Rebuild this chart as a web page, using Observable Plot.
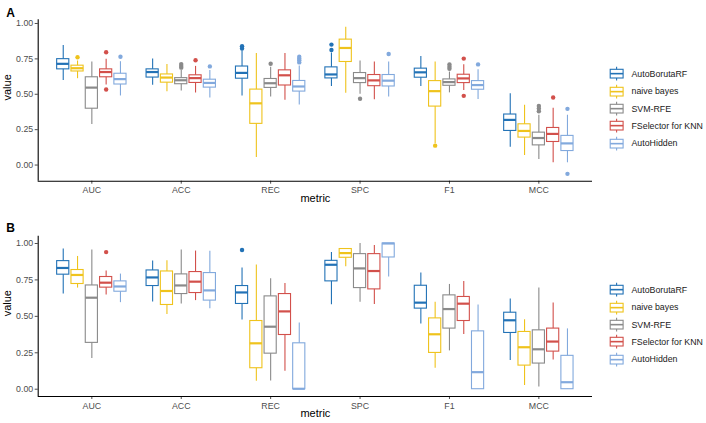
<!DOCTYPE html>
<html>
<head>
<meta charset="utf-8">
<script src="https://cdn.jsdelivr.net/npm/d3@7"></script>
<script src="https://cdn.jsdelivr.net/npm/@observablehq/plot@0.6"></script>
<style>
  body { margin: 0; background: white; font-family: 'Liberation Sans', Arial, sans-serif; }
  #wrap { position: relative; width: 706px; height: 423px; overflow: hidden; }
  .legend { position: absolute; left: 608px; }
  .legend .row { display: flex; align-items: center; height: 17.3px; }
  .legend .row span { font-size: 8.8px; color: #1a1a1a; margin-left: 6.5px; white-space: nowrap; }
</style>
</head>
<body>
<div id="wrap"></div>
<script>
// ---------- data ----------
const metrics = ["AUC", "ACC", "REC", "SPC", "F1", "MCC"];
const methods = ["AutoBorutaRF", "naive bayes", "SVM-RFE", "FSelector for KNN", "AutoHidden"];
const methodColors = ["#2272b6", "#efc31c", "#8a8a8a", "#d2504b", "#82a9dd"];
const yTicks = [0, 0.25, 0.5, 0.75, 1];

// per metric: [lower whisker, q1, median, q3, upper whisker]
const A_AutoBorutaRF = [[0.597,0.676,0.715,0.748,0.845],[0.563,0.618,0.657,0.676,0.749],[0.488,0.61,0.651,0.696,0.805],[0.555,0.612,0.64,0.69,0.792],[0.555,0.617,0.655,0.681,0.766],[0.125,0.241,0.319,0.357,0.503]];
const A_naiveBayes   = [[0.61,0.661,0.684,0.702,0.735],[0.518,0.582,0.618,0.64,0.71],[0.054,0.291,0.436,0.533,0.788],[0.508,0.728,0.827,0.886,0.974],[0.15,0.413,0.522,0.593,0.728],[0.068,0.194,0.241,0.288,0.423]];
const A_SVMRFE       = [[0.287,0.398,0.547,0.62,0.728],[0.523,0.571,0.599,0.614,0.669],[0.481,0.545,0.578,0.608,0.69],[0.5,0.579,0.614,0.65,0.735],[0.51,0.56,0.586,0.605,0.657],[0.04,0.139,0.191,0.229,0.352]];
const A_FSelector    = [[0.565,0.62,0.657,0.676,0.748],[0.509,0.58,0.614,0.634,0.697],[0.458,0.562,0.634,0.669,0.788],[0.461,0.557,0.598,0.636,0.728],[0.527,0.579,0.612,0.638,0.709],[0.016,0.163,0.22,0.262,0.401]];
const A_AutoHidden   = [[0.488,0.569,0.607,0.645,0.73],[0.474,0.547,0.58,0.603,0.668],[0.424,0.519,0.555,0.594,0.7],[0.48,0.555,0.596,0.636,0.728],[0.463,0.532,0.565,0.593,0.674],[0.016,0.099,0.153,0.206,0.352]];
// outliers: [metric, method, value]
const A_outliers = [
  ["REC","AutoBorutaRF",0.839],["REC","AutoBorutaRF",0.823],["SPC","AutoBorutaRF",0.851],["SPC","AutoBorutaRF",0.813],
  ["AUC","naive bayes",0.761],["F1","naive bayes",0.137],
  ["ACC","SVM-RFE",0.713],["ACC","SVM-RFE",0.7],["ACC","SVM-RFE",0.688],["REC","SVM-RFE",0.716],["SPC","SVM-RFE",0.468],
  ["F1","SVM-RFE",0.71],["F1","SVM-RFE",0.695],["F1","SVM-RFE",0.68],["MCC","SVM-RFE",0.418],["MCC","SVM-RFE",0.4],["MCC","SVM-RFE",0.38],
  ["AUC","FSelector for KNN",0.797],["AUC","FSelector for KNN",0.534],["ACC","FSelector for KNN",0.74],
  ["F1","FSelector for KNN",0.752],["F1","FSelector for KNN",0.489],["MCC","FSelector for KNN",0.477],
  ["AUC","AutoHidden",0.765],["ACC","AutoHidden",0.697],["REC","AutoHidden",0.765],["REC","AutoHidden",0.752],
  ["REC","AutoHidden",0.74],["REC","AutoHidden",0.725],["SPC","AutoHidden",0.784],["F1","AutoHidden",0.711],
  ["MCC","AutoHidden",0.397],["MCC","AutoHidden",-0.062]
];

const B_AutoBorutaRF = [[0.653,0.786,0.832,0.879,0.962],[0.598,0.708,0.767,0.815,0.879],[0.475,0.585,0.664,0.708,0.831],[0.58,0.74,0.854,0.881,0.938],[0.448,0.553,0.594,0.71,0.797],[0.197,0.386,0.473,0.525,0.619]];
const B_naiveBayes   = [[0.694,0.722,0.784,0.818,0.911],[0.512,0.578,0.674,0.808,0.881],[0.055,0.144,0.315,0.468,0.852],[0.84,0.902,0.934,0.962,0.962],[0.144,0.249,0.377,0.486,0.596],[0.025,0.162,0.288,0.393,0.477]];
const B_SVMRFE       = [[0.21,0.318,0.628,0.712,0.955],[0.585,0.653,0.712,0.788,0.955],[0.057,0.244,0.429,0.637,0.758],[0.596,0.694,0.829,0.927,1.0],[0.263,0.416,0.55,0.644,0.719],[0.016,0.176,0.274,0.404,0.694]];
const B_FSelector    = [[0.646,0.697,0.731,0.77,0.811],[0.608,0.66,0.738,0.804,0.948],[0.123,0.372,0.534,0.653,0.726],[0.582,0.685,0.811,0.927,0.986],[0.375,0.468,0.587,0.633,0.74],[0.201,0.258,0.327,0.416,0.592]];
const B_AutoHidden   = [[0.594,0.669,0.705,0.74,0.79],[0.553,0.608,0.678,0.797,0.946],[0,0,0.003,0.315,0.455],[0.77,0.904,1.0,1.0,1.0],[0,0,0.117,0.397,0.578],[0,0,0.048,0.229,0.414]];
const B_outliers = [["AUC","FSelector for KNN",0.941],["REC","AutoBorutaRF",0.955]];

// ---------- build ----------
const slot = 0.16, halfBox = 0.068;
function offset(method) { return (methods.indexOf(method) - (methods.length - 1) / 2) * slot; }
function buildRows(seriesList) {
  const rows = [];
  seriesList.forEach((series, k) => {
    series.forEach((s, i) => {
      const xc = i + offset(methods[k]);
      rows.push({metric: metrics[i], method: methods[k], xc, xl: xc - halfBox, xr: xc + halfBox,
                 lo: s[0], q1: s[1], med: s[2], q3: s[3], hi: s[4]});
    });
  });
  return rows;
}
function buildOutliers(list) {
  return list.map(([m, k, v]) => ({method: k, xc: metrics.indexOf(m) + offset(k), v}));
}

function panel(label, rows, outs, yDomain, height, mt, mb, labelDy) {
  return Plot.plot({
    width: 706, height,
    marginLeft: 37.7, marginRight: 114, marginTop: mt, marginBottom: mb,
    style: {fontFamily: "'Liberation Sans', Arial, sans-serif", fontSize: "8.8px", color: "#4d4d4d", background: "white", overflow: "visible"},
    x: {domain: [-0.6, metrics.length - 0.4], ticks: d3.range(metrics.length), tickFormat: i => metrics[i], tickSize: 3, tickPadding: 3, label: null},
    y: {domain: yDomain, ticks: yTicks, tickFormat: d3.format(".2f"), tickSize: 3, tickPadding: 2, label: null},
    color: {domain: methods, range: methodColors},
    marks: [
      Plot.ruleX(rows, {x: "xc", y1: "lo", y2: "hi", stroke: "method", strokeWidth: 1.1}),
      Plot.rect(rows, {x1: "xl", x2: "xr", y1: "q1", y2: "q3", fill: "white", stroke: "method", strokeWidth: 1.1}),
      Plot.ruleY(rows, {x1: "xl", x2: "xr", y: "med", stroke: "method", strokeWidth: 2.2}),
      Plot.dot(outs, {x: "xc", y: "v", r: 2.2, fill: "method", stroke: "none"}),
      Plot.ruleX([-0.6], {stroke: "black", strokeWidth: 1.1}),
      Plot.ruleY([yDomain[0]], {stroke: "black", strokeWidth: 1.1}),
      Plot.text(["metric"], {text: d => d, frameAnchor: "bottom", dy: 20.5, fontSize: 11, fill: "black"}),
      Plot.text(["value"], {text: d => d, frameAnchor: "left", dx: -31, rotate: -90, fontSize: 11, fill: "black"}),
      Plot.text([label], {text: d => d, frameAnchor: "top-left", dx: -32, dy: labelDy, fontSize: 12, fontWeight: "bold", fill: "black"})
    ]
  });
}

function legend(top) {
  const div = document.createElement("div");
  div.className = "legend";
  div.style.top = top + "px";
  methods.forEach((m, k) => {
    const row = document.createElement("div");
    row.className = "row";
    const c = methodColors[k];
    row.innerHTML = `<svg width="17" height="17.3" style="display:block">
      <line x1="8.6" x2="8.6" y1="1.7" y2="15.6" stroke="${c}" stroke-width="1.1"/>
      <rect x="2.2" y="4.3" width="12.9" height="8.7" fill="white" stroke="${c}" stroke-width="1.1"/>
      <line x1="2.2" x2="15.1" y1="8.65" y2="8.65" stroke="${c}" stroke-width="1.6"/>
    </svg><span>${m}</span>`;
    div.appendChild(row);
  });
  return div;
}

const wrap = document.getElementById("wrap");
const rowsA = buildRows([A_AutoBorutaRF, A_naiveBayes, A_SVMRFE, A_FSelector, A_AutoHidden]);
const rowsB = buildRows([B_AutoBorutaRF, B_naiveBayes, B_SVMRFE, B_FSelector, B_AutoHidden]);
const pA = panel("A", rowsA, buildOutliers(A_outliers), [-0.114, 1.026], 212, 19.3, 31.3, -11);
const pB = panel("B", rowsB, buildOutliers(B_outliers), [-0.05, 1.05], 211, 23.7, 27, -12.7);
pA.style.display = "block"; pB.style.display = "block";
wrap.appendChild(pA);
wrap.appendChild(pB);
wrap.appendChild(legend(65.4));
wrap.appendChild(legend(281.4));
</script>
</body>
</html>
